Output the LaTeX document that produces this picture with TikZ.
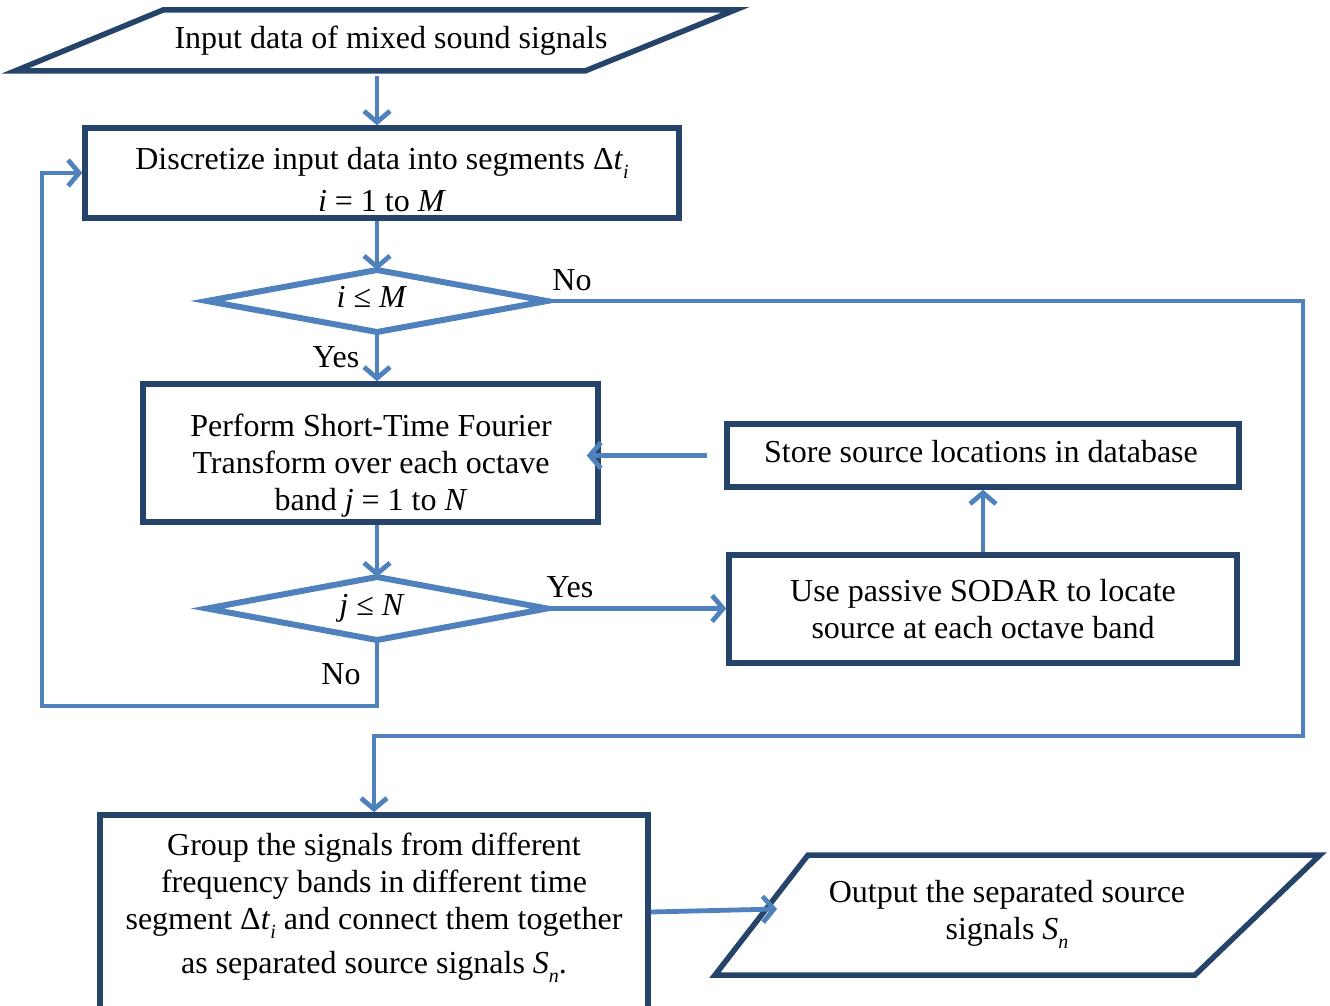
\documentclass[tikz,border=0pt]{standalone}
\usepackage{fontspec}
\setmainfont{Liberation Serif}
\usetikzlibrary{arrows.meta}
\definecolor{navy}{HTML}{264369}
\definecolor{conn}{HTML}{4F81BD}
\newcommand{\subidx}[1]{\raisebox{-0.28em}{\fontsize{20}{20}\selectfont\textit{#1}}}
\begin{document}
\begin{tikzpicture}[x=1pt,y=-1pt,
  every node/.style={font=\fontsize{32}{37}\selectfont, inner sep=0pt},
  box/.style={draw=navy, line width=5.5pt},
  pbox/.style={draw=navy, line width=5.5pt, line join=miter},
  dia/.style={draw=conn, line width=6pt, line join=miter},
  arr/.style={draw=conn, line width=4.8pt, -{Straight Barb[length=11pt,width=26pt]}},
  ghost/.style={inner sep=0pt, outer sep=0pt}]
\useasboundingbox (0,0) rectangle (1330,1006);
\clip (0,0) rectangle (1330,1006);

% input
\node[ghost, minimum height=61pt] (in) at (377,40.5) {\hspace*{28pt}Input data of mixed sound signals};
\draw[pbox] (163,10) -- (735,10) -- (585,71) -- (15,71) -- cycle;

% discretize
\node[box, minimum width=594pt, minimum height=90pt] (disc) at (382,173) {};
\node[align=center] (disct) at (382,180)
  {Discretize input data into segments Δ\textit{t}\subidx{i}\\[5pt]\textit{i} = 1 to \textit{M}};
\draw[arr] ([yshift=-5pt]in.south) -- (in.south |- disc.north);

% diamond 1
\node[ghost, minimum width=340pt, minimum height=62pt] (d1) at (377,301) {};
\node (d1t) at (372,297) {\textit{i} ≤ \textit{M}};
\draw[dia] (d1.west) -- (d1.north) -- (d1.east) -- (d1.south) -- cycle;
\draw[arr] (disc.south -| d1.north) -- (d1.north);

% stft
\node[box, minimum width=455pt, minimum height=138pt] (stft) at (370.5,453) {};
\node[align=center] (stftt) at (371,466) {Perform Short-Time Fourier\\Transform over each octave\\band \textit{j} = 1 to \textit{N}};
\node (yes1) at (336,357) {Yes};
\draw[arr] (d1.south) -- (d1.south |- stft.north);

% store
\node[box, minimum width=512pt, minimum height=63pt] (store) at (983,455.5) {};
\node (storet) at (981,452) {Store source locations in database};
\draw[arr] ([xshift=-17pt]store.west) -- ([xshift=-14pt]store.west -| stft.east);

% sodar
\node[box, minimum width=508pt, minimum height=108pt, align=center] (sodar) at (983,609)
  {Use passive SODAR to locate\\source at each octave band};
\draw[arr] (sodar.north) -- (store.south);

% diamond 2
\node[ghost, minimum width=340pt, minimum height=63pt] (d2) at (377,608.5) {};
\node (d2t) at (372,608) {\textit{j} ≤ \textit{N}};
\draw[dia] (d2.west) -- (d2.north) -- (d2.east) -- (d2.south) -- cycle;
\draw[arr] (stft.south -| d2.north) -- (d2.north);
\node (yes2) at (570,587) {Yes};
\draw[arr] (d2.east) -- (d2.east -| sodar.west);
\node (no2) at (341,674) {No};
\coordinate (lb) at (42,706);
\draw[arr] (d2.south) |- (lb) |- (disc.west);

% group
\node[box, minimum width=548pt, minimum height=230pt] (grp) at (374,930) {};
\node[align=center] (grpt) at (374,908) {Group the signals from different\\frequency bands in different time\\segment Δ\textit{t}\subidx{i} and connect them together\\[7pt]as separated source signals \textit{S}\subidx{n}.};

\node (no1) at (572,280) {No};
\coordinate (rr) at (1303,736);
\draw[arr] (d1.east) -| (rr) -| (grp.north);

% output
\node[ghost, align=center] (out) at (1007,914) {Output the separated source\\signals \textit{S}\subidx{n}};
\draw[pbox] (808,855) -- (1320,855) -- (1195,975) -- (715,975) -- cycle;
\coordinate (outin) at (777,909);
\draw[arr] ([yshift=18pt]grp.east) -- (outin);
\end{tikzpicture}
\end{document}
